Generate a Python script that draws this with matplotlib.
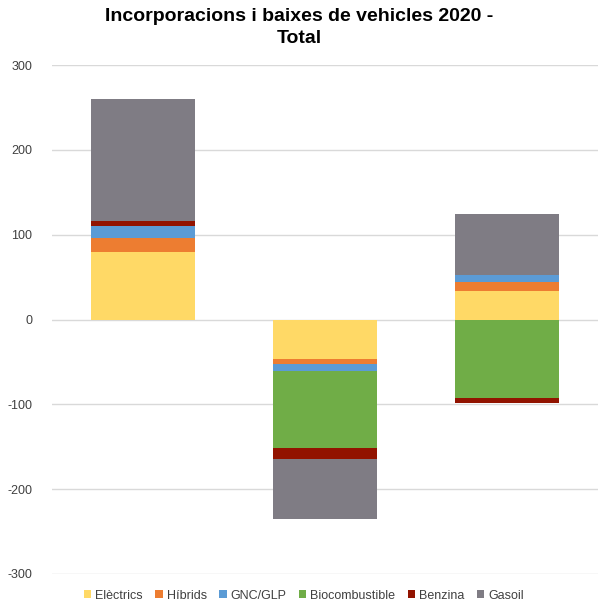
import matplotlib.pyplot as plt
import numpy as np

plt.rcParams["font.family"] = ["Liberation Sans", "DejaVu Sans"]
plt.rcParams["axes.unicode_minus"] = False

categories = ["Incorporacions", "Baixes", "Total"]
series_names = ["Elèctrics", "Híbrids", "GNC/GLP", "Biocombustible", "Benzina", "Gasoil"]
electrics = [80, -47, 34]
hibrids = [16, -6, 10]
gnc_glp = [14, -8, 8]
biocombustible = [0, -91, -92]
benzina = [6, -12, -6]
gasoil = [144, -71, 72]
colors = ["#FFD966", "#ED7D31", "#5B9BD5", "#70AD47", "#921300", "#7F7C84"]

fig = plt.figure(figsize=(5.98, 6.10), dpi=100)
ax = fig.add_axes([52 / 598, 1 - 574 / 610, 546 / 598, 509 / 610])

x = np.arange(len(categories))
pos_bottom = np.zeros(len(categories))
neg_bottom = np.zeros(len(categories))
for name, vals, col in zip(series_names,
                           [electrics, hibrids, gnc_glp, biocombustible, benzina, gasoil],
                           colors):
    vals = np.array(vals, dtype=float)
    bottom = np.where(vals >= 0, pos_bottom, neg_bottom)
    ax.bar(x, vals, width=0.57, bottom=bottom, color=col, label=name)
    pos_bottom += np.where(vals > 0, vals, 0)
    neg_bottom += np.where(vals < 0, vals, 0)

ax.set_xlim(-0.5, 2.5)
ax.set_ylim(-300, 300)
ax.set_yticks(range(-300, 301, 100))
ax.set_xticks([])
ax.yaxis.grid(True, color="#d9d9d9", linewidth=1)
ax.set_axisbelow(True)
for s in ax.spines.values():
    s.set_visible(False)
ax.tick_params(axis="y", length=0, pad=14, labelsize=9, labelcolor="#404040")

fig.text(0.5, 1 - 8 / 610, "Incorporacions i baixes de vehicles 2020 -\nTotal",
         fontsize=14, fontweight="bold", ha="center", va="top", linespacing=1.35)

fig.legend(loc="lower center", bbox_to_anchor=(0.508, -0.005), ncol=6, frameon=False,
           fontsize=9, handlelength=0.6, handleheight=0.6, handletextpad=0.3,
           columnspacing=1.0, labelcolor="#404040")

fig.savefig("out.png", dpi=100)
